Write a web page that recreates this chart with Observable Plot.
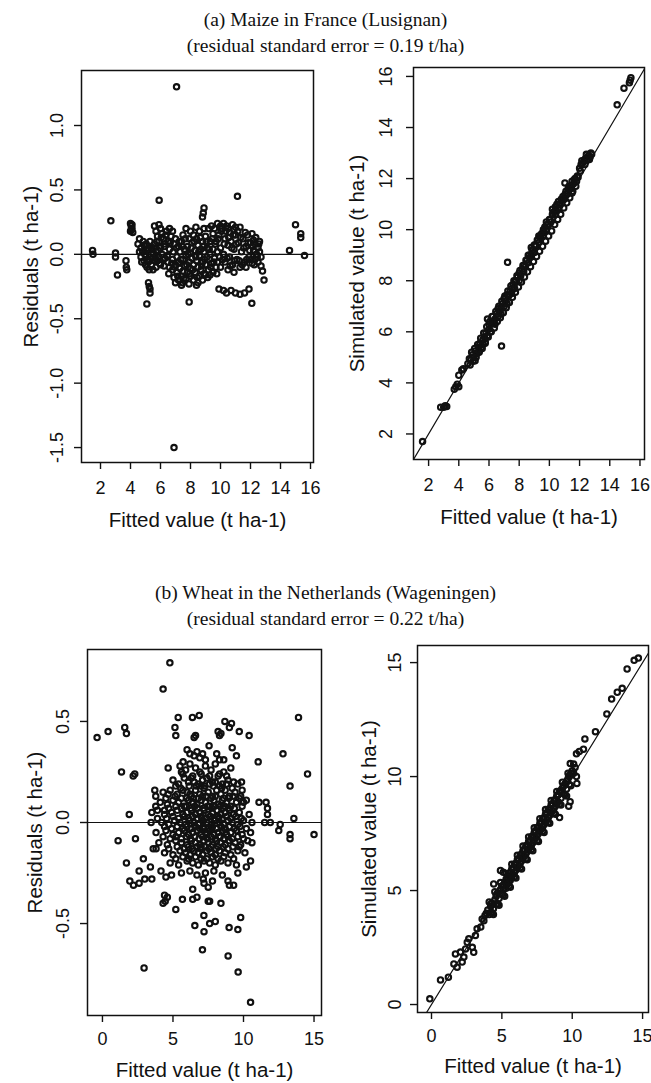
<!DOCTYPE html>
<html><head><meta charset="utf-8">
<script src="https://cdn.jsdelivr.net/npm/d3@7"></script>
<script src="https://cdn.jsdelivr.net/npm/@observablehq/plot@0.6"></script>
<style>
body{margin:0;background:#fff;}
#page{position:relative;width:651px;height:1083px;overflow:hidden;background:#fff;}
#page svg{position:absolute;left:0;top:0;}
.title{position:absolute;left:0;width:651px;text-align:center;font-family:"Liberation Serif","Times New Roman",serif;font-size:19.5px;line-height:1;color:#111;white-space:nowrap;}
</style></head><body><div id="page"></div>
<script>
// ---------- titles ----------
const titleA = "(a) Maize in France (Lusignan)";
const subtitleA = "(residual standard error = 0.19 t/ha)";
const titleB = "(b) Wheat in the Netherlands (Wageningen)";
const subtitleB = "(residual standard error = 0.22 t/ha)";
const xTitle = "Fitted value (t ha-1)";
const residTitle = "Residuals (t ha-1)";
const simTitle = "Simulated value (t ha-1)";

// ---------- ticks ----------
const maizeXTicks = [2, 4, 6, 8, 10, 12, 14, 16];
const maizeXLabels = ["2", "4", "6", "8", "10", "12", "14", "16"];
const maizeResidYTicks = [-1.5, -1, -0.5, 0, 0.5, 1];
const maizeResidYLabels = ["-1.5", "-1.0", "-0.5", "0.0", "0.5", "1.0"];
const maizeSimYTicks = [2, 4, 6, 8, 10, 12, 14, 16];
const maizeSimYLabels = ["2", "4", "6", "8", "10", "12", "14", "16"];
const wheatXTicks = [0, 5, 10, 15];
const wheatXLabels = ["0", "5", "10", "15"];
const wheatResidYTicks = [-0.5, 0, 0.5];
const wheatResidYLabels = ["-0.5", "0.0", "0.5"];
const wheatSimYTicks = [0, 5, 10, 15];
const wheatSimYLabels = ["0", "5", "10", "15"];

// reference lines
const zeroLine = [0];
const maizeOneToOne = [0, 17];
const wheatOneToOne = [-1, 16];

// ---------- maize: [fitted, residual] ----------
const maizeResiduals = [
[7.07,1.30],[6.9,-1.5],
[1.47,0.03],[1.5,0.0],[2.69,0.26],[3.0,0.01],[3.0,-0.02],[3.13,-0.16],[3.7,-0.05],[3.72,-0.1],[3.75,-0.12],
[4.0,0.24],[4.05,0.22],[4.1,0.2],[4.0,0.18],[4.15,0.17],[4.1,0.23],[4.05,0.19],
[5.91,0.42],[11.13,0.45],[8.9,0.36],[8.8,0.29],[8.85,0.32],
[15.0,0.23],[15.35,0.16],[15.35,0.13],[14.6,0.03],[15.6,-0.01],
[5.2,-0.22],[5.25,-0.25],[5.3,-0.27],[5.3,-0.3],[5.09,-0.385],[7.91,-0.37],
[9.9,-0.27],[10.2,-0.28],[10.4,-0.3],[10.7,-0.28],[11.0,-0.3],[11.3,-0.31],[11.6,-0.3],[11.9,-0.27],[12.09,-0.38],
[12.9,-0.2],[12.8,-0.13],[12.7,-0.09],
[4.5,0.08],[4.6,0.12],[4.7,0.05],[4.7,-0.02],[4.8,0.02],[4.9,-0.05],[4.9,0.07],[5.0,0.0],[5.0,-0.08],[5.1,0.03],[5.1,-0.1],[5.2,-0.06],[5.2,0.05],[5.3,-0.02],[5.3,0.1],[5.4,-0.08],[5.4,0.04],[5.5,-0.12],[5.5,0.0],[5.6,-0.05],[5.6,0.08],[5.7,-0.1],[5.7,0.02],
[5.6,0.22],[5.7,0.18],[5.8,0.14],[5.9,0.23],[5.9,0.1],[6.0,0.2],[6.0,0.05],[6.1,0.16],[6.2,0.12],[6.3,0.08],[6.4,0.18],[6.5,0.1],[6.6,0.2],[6.6,0.04],[6.7,0.14],[6.8,0.18],[6.9,0.08],[7.0,0.12],[7.2,0.06],[7.4,0.1],[7.7,0.2],[7.5,0.15],
[5.8,-0.05],[5.9,-0.02],[6.0,-0.08],[6.1,0.0],[6.24,-0.09],[6.3,-0.03],[6.5,-0.06],[6.6,-0.1],[6.8,-0.04],
[6.8,-0.12],[6.9,-0.18],[7.0,-0.08],[7.0,-0.22],[7.1,-0.02],[7.1,-0.14],[7.2,-0.2],[7.2,-0.06],[7.3,0.02],[7.3,-0.11],[7.4,-0.17],[7.4,-0.24],[7.47,-0.22],[7.5,-0.04],[7.5,-0.13],[7.6,0.04],[7.6,-0.09],[7.7,-0.19],[7.7,-0.01],[7.8,-0.14],[7.8,0.06],[7.9,-0.06],[7.9,-0.23],[8.0,0.01],[8.0,-0.11],[8.0,-0.17],[8.1,-0.03],[8.1,0.09],[8.2,-0.2],[8.2,-0.08],[8.3,0.03],[8.3,-0.14],[8.4,-0.05],[8.4,-0.24],[8.5,-0.22],[8.5,0.07],[8.5,-0.1],[8.6,-0.01],[8.6,-0.17],[8.7,0.04],[8.7,-0.12],[8.8,-0.06],[8.8,-0.2],[8.9,0.02],[8.9,-0.15],[9.0,-0.16],[9.0,-0.08],[9.1,0.05],[9.1,-0.02],[9.2,-0.12],[9.3,-0.16],[9.3,0.0],[9.4,-0.07],[9.5,0.04],[9.5,-0.14],[9.6,-0.03],[9.7,-0.1],[9.8,0.02],
[7.9,0.12],[8.0,0.18],[8.2,0.15],[8.36,0.21],[8.4,0.12],[8.6,0.18],[8.8,0.1],[9.0,0.14],[9.2,0.2],[9.3,0.1],[9.5,0.16],
[9.6,0.2],[9.7,0.1],[9.8,0.24],[9.8,-0.06],[9.9,0.15],[10.0,0.05],[10.0,-0.1],[10.1,0.2],[10.2,0.24],[10.2,0.0],[10.3,0.12],[10.3,-0.06],[10.4,0.22],[10.5,0.07],[10.5,-0.12],[10.6,0.17],[10.6,-0.02],[10.7,0.1],[10.8,0.23],[10.8,-0.08],[10.9,0.04],[10.9,-0.14],[11.0,0.15],[11.0,0.21],[11.1,-0.04],[11.2,0.09],[11.3,0.21],[11.3,-0.1],[11.4,0.02],[11.5,0.12],[11.6,-0.06],[11.7,-0.1],[11.7,0.06],[11.8,0.15],[11.9,-0.02],[12.0,0.09],[12.1,0.16],[12.1,-0.07],[12.2,0.11],[12.2,0.03],[12.3,0.08],[12.3,-0.04],[12.4,0.0],[12.5,0.05],[12.5,-0.06],[12.6,0.02],[12.6,0.1],[12.7,-0.02],
[6.55,-0.15],[6.65,0.09],[6.75,-0.07],[6.85,0.02],[6.95,-0.1],[7.05,0.05],[7.15,-0.17],[7.25,0.1],[7.35,-0.04],[7.45,0.06],[7.55,-0.19],[7.65,0.12],[7.75,-0.08],[7.85,0.0],[7.95,-0.15],[8.05,0.05],[8.15,-0.12],[8.25,0.1],[8.35,-0.02],[8.45,-0.18],[8.55,0.02],[8.65,0.13],[8.75,-0.09],[8.85,0.06],[8.95,-0.04],[9.05,0.1],[9.15,-0.18],[9.25,0.04],[9.35,-0.1],[9.45,0.12],[9.55,-0.06],[9.65,0.08],[9.75,-0.15],[9.85,0.12],[9.95,-0.02],[10.05,0.18],[10.15,-0.04],[10.25,0.08],[10.35,0.18],[10.45,-0.03],[10.55,0.13],[10.65,-0.09],[10.75,0.05],[10.85,0.15],[10.95,-0.05],[11.05,0.08],[11.15,0.18],[11.25,-0.05],[11.35,0.13],[11.45,-0.08],[11.55,0.05],[11.65,0.17],[11.75,-0.04],[11.85,0.09],[11.95,0.03],[12.05,-0.04],[12.15,0.06],[12.25,-0.08],[12.35,0.13],[12.45,-0.02],[12.55,0.08],
[10.0,0.22],[10.5,0.2],[10.9,0.19],[9.4,0.22],[8.9,0.2],
[5.55,0.05],[5.65,-0.02],[5.75,0.1],[5.85,0.03],[5.95,-0.07],[6.05,0.13],[6.15,-0.04],[6.25,0.06],[6.35,0.15],[6.45,-0.01],[4.6,0.02],[4.75,-0.06],[4.85,0.1],[4.95,0.0],[5.05,0.08],[5.15,-0.04],[5.25,-0.12],[5.35,0.06],[5.45,-0.03]
];

// ---------- maize: [fitted, simulated] ----------
const maizeSimulated = [
[1.6,1.7],[2.8,3.05],[3.0,3.05],[3.1,3.1],[3.2,3.08],[3.7,3.75],[3.8,3.85],[3.9,3.95],[4.0,3.85],[4.0,4.3],[4.2,4.5],[4.3,4.55],[4.6,4.75],[4.8,4.9],[5.08,4.87],
[4.7,4.95],[4.9,5.1],[5.0,5.0],[5.1,5.25],[5.2,5.15],[5.3,5.4],[5.35,5.2],[5.4,5.55],[5.5,5.4],[5.6,5.7],[5.6,5.5],[5.7,5.8],[5.75,5.6],[5.8,5.95],[5.9,6.5],[5.9,5.85],[6.0,6.1],[6.0,6.3],[6.1,6.0],[6.2,6.35],[6.2,6.6],[6.3,6.4],[6.4,6.5],[6.4,6.3],[6.5,6.7],[6.6,6.6],[6.6,6.9],[6.7,6.8],[6.8,6.95],[6.8,6.7],[6.83,5.44],[6.9,7.1],[7.0,7.0],[7.0,7.3],[7.1,7.2],[7.2,7.45],[7.2,7.1],[7.23,8.72],[7.3,7.4],[7.4,7.6],[7.5,7.5],[7.5,7.7],[7.6,7.85],[7.7,7.7],[7.7,7.95],[7.8,8.0],[7.9,8.15],[8.0,8.0],[8.0,8.3],[8.1,8.2],[8.2,8.45],[8.3,8.35],[8.3,8.6],[8.4,8.55],[8.5,8.8],[8.6,8.7],[8.6,9.0],[8.7,8.9],[8.8,9.3],[8.8,9.0],[8.9,9.2],[9.0,9.1],[9.0,9.4],[9.1,9.35],[9.2,9.6],[9.3,9.5],[9.3,9.75],[9.4,9.7],[9.5,9.85],[9.6,9.75],[9.6,10.0],[9.7,10.1],[9.8,10.0],[9.8,10.3],[9.9,10.2],[10.0,10.4],[10.1,10.3],[10.2,10.6],[10.2,10.8],[10.3,10.7],[10.4,10.9],[10.4,10.6],[10.5,11.0],[10.6,10.85],[10.6,11.1],[10.7,11.0],[10.8,11.2],[10.9,11.3],[11.0,11.2],[11.03,11.83],[11.1,11.5],[11.2,11.4],[11.3,11.7],[11.4,11.6],[11.5,11.44],[11.5,11.9],[11.6,11.8],[11.7,12.0],[11.8,11.9],[11.9,12.05],
[12.0,12.4],[12.1,12.55],[12.2,12.6],[12.3,12.7],[12.4,12.8],[12.5,12.75],[12.6,12.9],[12.7,12.85],[12.8,12.95],
[14.49,14.89],[14.94,15.54],[15.3,15.75],[15.4,15.95],[15.35,15.85],
[4.75,4.7],[4.85,5.2],[4.95,4.85],[5.05,5.35],[5.15,5.0],[5.25,5.5],[5.35,5.25],[5.45,5.75],[5.55,5.35],[5.65,5.95],[5.75,5.55],[5.85,6.2],[5.95,5.8],[6.05,6.4],[6.15,6.0],[6.25,6.6],[6.35,6.15],[6.45,6.8],[6.55,6.4],[6.65,7.0],[6.75,6.55],[6.85,7.2],[6.95,6.75],[7.05,7.4],[7.15,6.95],[7.25,7.6],[7.35,7.15],[7.45,7.8],[7.55,7.35],[7.65,8.0],[7.75,7.55],[7.85,8.2],[7.95,7.75],[8.05,8.4],[8.15,7.95],[8.25,8.6],[8.35,8.15],[8.45,8.8],[8.55,8.35],[8.65,9.0],[8.75,8.55],[8.85,9.2],[8.95,8.75],[9.05,9.4],[9.15,8.95],[9.25,9.6],[9.35,9.15],[9.45,9.8],[9.55,9.35],[9.65,10.0],[9.75,9.55],[9.85,10.2],[9.95,9.75],[10.05,10.4],[10.15,9.95],[10.25,10.6],[10.35,10.2],[10.45,10.8],[10.55,10.4],[10.65,11.0],[10.75,10.6],[10.85,11.2],[10.95,10.85],[11.05,11.4],[11.15,11.05],[11.25,11.6],[11.35,11.25],[11.45,11.7],[11.55,11.5],[11.65,11.95],[11.75,11.7],[11.85,12.1],[12.05,12.3],[12.15,12.7],[12.35,12.55],[12.45,12.95],[12.65,12.75],[12.75,13.0]
];

// ---------- wheat: [fitted, residual] ----------
const wheatResiduals = [
[4.78,0.79],[4.3,0.66],[-0.38,0.42],[0.4,0.45],[1.58,0.47],[1.7,0.44],[5.37,0.52],[5.14,0.47],[5.2,0.43],[6.38,0.52],[6.86,0.53],[6.5,0.42],[6.6,0.43],[8.68,0.5],[9.0,0.47],[9.15,0.49],[8.2,0.45],[8.3,0.43],[8.4,0.44],[9.7,0.45],[10.4,0.43],[13.9,0.52],[12.8,0.34],[11.04,0.3],[14.54,0.24],[13.3,0.18],[1.35,0.25],[2.18,0.23],[2.29,0.24],[4.66,0.27],[5.72,0.3],[5.6,0.25],
[6.0,0.36],[6.2,0.34],[6.5,0.33],[6.7,0.35],[6.9,0.32],[7.1,0.34],[7.3,0.31],[7.56,0.38],[8.1,0.34],[8.3,0.31],[8.6,0.31],[9.2,0.37],[9.5,0.33],
[3.71,0.16],[3.78,0.13],[4.66,0.14],[3.78,0.08],[3.9,0.06],[1.9,0.04],[3.5,0.05],[3.45,0.0],[3.9,0.02],[4.4,0.06],[9.86,0.2],[9.8,0.13],[10.0,0.1],[11.1,0.1],[11.6,0.1],[11.7,0.07],[11.7,0.04],[13.57,0.02],[12.6,-0.01],[11.9,0.0],[11.5,0.0],
[1.11,-0.09],[2.34,-0.08],[15.0,-0.06],[12.5,-0.04],[13.3,-0.06],[13.3,-0.08],[3.6,-0.13],[3.8,-0.13],[2.9,-0.18],[1.7,-0.2],[2.6,-0.24],[3.4,-0.22],[3.0,-0.28],[3.5,-0.28],[1.94,-0.29],[2.2,-0.31],[2.6,-0.3],[4.15,-0.24],[4.5,-0.27],[4.9,-0.26],[4.4,-0.36],[4.6,-0.37],[4.3,-0.4],[4.45,-0.39],[5.2,-0.43],[5.67,-0.38],[6.4,-0.33],[6.4,-0.38],[6.7,-0.37],[7.5,-0.39],[7.6,-0.39],[8.4,-0.4],[7.5,-0.32],[7.2,-0.3],[7.15,-0.28],[7.8,-0.29],[8.9,-0.29],[9.3,-0.31],[9.0,-0.31],[9.6,-0.25],[10.2,-0.22],[10.5,-0.19],[10.6,-0.1],[7.19,-0.46],[9.8,-0.47],[6.55,-0.51],[7.2,-0.54],[7.6,-0.5],[8.0,-0.49],[8.98,-0.52],[9.6,-0.53],[7.09,-0.63],[8.91,-0.66],[9.62,-0.74],[2.95,-0.72],[10.5,-0.89],
[5.5,0.28],[5.9,0.26],[6.2,0.29],[6.6,0.27],[6.9,0.25],[7.3,0.28],[7.7,0.26],[8.0,0.29],[8.6,0.25],[9.1,0.27],
[5.0,0.21],[5.4,0.19],[5.8,0.22],[6.1,0.2],[6.4,0.23],[6.8,0.19],[7.1,0.21],[7.4,0.22],[7.8,0.2],[8.2,0.23],[8.5,0.19],[8.9,0.21],[9.3,0.2],
[4.3,0.15],[4.8,0.16],[5.3,0.14],[5.7,0.16],[6.0,0.15],[6.3,0.13],[6.6,0.16],[6.9,0.14],[7.2,0.17],[7.5,0.15],[7.8,0.13],[8.1,0.16],[8.4,0.14],[8.7,0.16],[9.0,0.13],[9.4,0.15],[9.9,0.16],
[4.1,0.1],[4.6,0.09],[5.0,0.11],[5.4,0.1],[5.8,0.08],[6.1,0.11],[6.4,0.1],[6.7,0.09],[7.0,0.11],[7.3,0.1],[7.6,0.08],[7.9,0.11],[8.2,0.09],[8.5,0.11],[8.8,0.1],[9.1,0.08],[9.5,0.1],[10.2,0.11],
[4.4,0.04],[4.9,0.05],[5.3,0.06],[5.7,0.04],[6.0,0.05],[6.3,0.06],[6.6,0.04],[6.9,0.05],[7.2,0.06],[7.5,0.04],[7.8,0.05],[8.1,0.06],[8.4,0.04],[8.7,0.05],[9.0,0.06],[9.3,0.04],[9.7,0.05],[10.4,0.04],
[4.2,0.0],[4.7,-0.01],[5.1,0.01],[5.5,0.0],[5.9,-0.01],[6.2,0.01],[6.5,0.0],[6.8,-0.01],[7.1,0.01],[7.4,0.0],[7.7,-0.01],[8.0,0.01],[8.3,0.0],[8.6,-0.01],[8.9,0.01],[9.2,0.0],[9.6,-0.01],[10.0,0.01],[10.6,0.0],
[3.8,-0.05],[4.5,-0.04],[5.0,-0.06],[5.4,-0.05],[5.8,-0.04],[6.1,-0.06],[6.4,-0.05],[6.7,-0.04],[7.0,-0.06],[7.3,-0.05],[7.6,-0.04],[7.9,-0.06],[8.2,-0.05],[8.5,-0.04],[8.8,-0.06],[9.1,-0.05],[9.5,-0.04],[9.9,-0.06],[10.5,-0.05],
[4.0,-0.1],[4.6,-0.11],[5.2,-0.09],[5.6,-0.1],[6.0,-0.11],[6.3,-0.09],[6.6,-0.1],[6.9,-0.11],[7.2,-0.09],[7.5,-0.1],[7.8,-0.11],[8.1,-0.09],[8.4,-0.1],[8.7,-0.11],[9.0,-0.09],[9.4,-0.1],[9.8,-0.11],[10.3,-0.09],
[4.4,-0.15],[5.0,-0.16],[5.5,-0.14],[5.9,-0.15],[6.2,-0.16],[6.5,-0.14],[6.8,-0.15],[7.1,-0.16],[7.4,-0.14],[7.7,-0.15],[8.0,-0.16],[8.3,-0.14],[8.7,-0.15],[9.1,-0.16],[9.6,-0.14],[10.1,-0.15],
[4.8,-0.2],[5.4,-0.21],[6.0,-0.19],[6.4,-0.2],[6.8,-0.21],[7.2,-0.19],[7.6,-0.2],[8.0,-0.21],[8.4,-0.19],[8.9,-0.2],[9.5,-0.21],
[5.6,-0.25],[6.2,-0.24],[6.7,-0.26],[7.3,-0.25],[7.9,-0.24],[8.5,-0.26],
[6.45,0.12],[6.75,0.07],[7.05,0.02],[7.35,0.13],[7.65,0.03],[7.95,0.08],[8.25,0.02],[8.55,0.07],[6.55,-0.02],[6.85,-0.08],[7.15,-0.03],[7.45,-0.08],[7.75,-0.03],[8.05,-0.13],[8.35,-0.07],[8.65,-0.03],[6.35,-0.13],[6.95,-0.13],[7.55,-0.13],[7.25,0.18],[7.85,0.18],[6.65,0.18],[8.45,0.17],
[5.7,0.24],[6.3,0.22],[7.0,0.24],[7.6,0.23],[8.3,0.24],[8.8,0.23],
[5.2,0.18],[5.55,0.17],[6.15,0.18],[6.5,0.2],[7.0,0.18],[7.6,0.19],[8.0,0.2],[8.3,0.18],[8.8,0.19],[9.2,0.17],[9.6,0.19],
[4.5,0.12],[5.15,0.13],[5.6,0.12],[5.95,0.12],[6.2,0.14],[6.8,0.12],[7.1,0.13],[7.7,0.12],[8.0,0.13],[8.6,0.12],[8.95,0.12],[9.25,0.13],[9.7,0.12],
[4.7,0.07],[5.2,0.08],[5.6,0.07],[5.95,0.08],[6.25,0.07],[6.55,0.08],[7.15,0.07],[7.45,0.08],[7.75,0.07],[8.35,0.08],[8.65,0.08],[8.95,0.07],[9.35,0.07],[9.9,0.08],
[4.55,0.02],[5.0,0.03],[5.4,0.02],[5.8,0.03],[6.1,0.02],[6.4,0.03],[6.7,0.02],[7.0,0.03],[7.3,0.02],[7.6,0.03],[7.9,0.02],[8.2,0.03],[8.5,0.02],[8.8,0.03],[9.1,0.02],[9.45,0.03],[9.85,0.02],
[4.4,-0.02],[4.9,-0.03],[5.3,-0.02],[5.7,-0.03],[6.0,-0.02],[6.3,-0.03],[6.6,-0.02],[6.9,-0.03],[7.2,-0.02],[7.5,-0.03],[7.8,-0.02],[8.1,-0.03],[8.4,-0.02],[8.7,-0.03],[9.0,-0.02],[9.35,-0.03],[9.75,-0.02],[10.2,-0.03],
[4.3,-0.07],[4.8,-0.08],[5.2,-0.07],[5.6,-0.08],[5.95,-0.07],[6.25,-0.08],[6.55,-0.07],[7.1,-0.07],[7.4,-0.06],[7.7,-0.07],[8.0,-0.08],[8.3,-0.07],[8.6,-0.08],[8.9,-0.07],[9.2,-0.08],[9.6,-0.07],[10.0,-0.08],
[4.7,-0.13],[5.3,-0.12],[5.8,-0.13],[6.1,-0.12],[6.7,-0.12],[7.0,-0.12],[7.3,-0.12],[7.7,-0.12],[8.2,-0.12],[8.55,-0.12],[8.9,-0.13],[9.25,-0.12],[9.7,-0.12],
[5.2,-0.18],[5.7,-0.17],[6.1,-0.18],[6.6,-0.17],[7.0,-0.18],[7.4,-0.18],[7.8,-0.17],[8.2,-0.18],[8.6,-0.17],[9.3,-0.18]
];

// ---------- wheat: [fitted, simulated] ----------
const wheatSimulated = [
[-0.12,0.25],[0.64,1.08],[1.2,1.2],[1.59,1.78],[1.82,1.64],[2.18,1.86],[2.3,2.08],[1.7,2.22],[2.06,2.3],[2.42,2.44],[2.54,2.73],[2.9,2.51],[3.0,2.29],[2.65,2.88],[3.12,3.03],[3.24,3.32],[3.5,3.4],[3.6,3.75],[3.72,3.68],[3.9,4.0],[3.8,3.9],
[4.0,4.15],[4.1,3.95],[4.2,4.3],[4.25,4.05],[4.3,4.45],[4.4,4.2],[4.42,5.29],[4.5,4.6],[4.6,4.4],[4.6,4.75],[4.7,4.9],[4.8,4.65],[4.9,5.05],[4.9,5.88],[5.0,4.85],[5.0,5.2],[5.1,5.8],[5.1,5.05],[5.2,5.35],[5.3,5.1],[5.3,5.5],[5.4,5.3],[5.5,5.65],[5.5,5.35],[5.6,5.8],[5.6,5.45],[5.7,5.95],[5.7,5.6],[5.8,6.0],[5.8,5.7],[5.9,6.15],[5.9,5.8],[6.0,6.2],[6.0,5.9],[6.1,6.35],[6.1,6.0],[6.2,6.4],[6.2,6.1],[6.3,6.55],[6.3,6.2],[6.4,6.6],[6.4,6.3],[6.5,6.75],[6.5,6.4],[6.6,6.8],[6.6,6.5],[6.7,6.95],[6.7,6.6],[6.8,7.0],[6.8,6.7],[6.9,7.15],[6.9,6.8],[7.0,7.2],[7.0,6.9],[7.1,7.35],[7.1,7.0],[7.2,7.4],[7.2,7.1],[7.3,7.55],[7.3,7.2],[7.4,7.6],[7.4,7.3],[7.5,7.75],[7.5,7.4],[7.6,7.8],[7.6,7.5],[7.7,7.95],[7.7,7.6],[7.8,8.0],[7.8,7.7],[7.9,8.15],[7.9,7.8],[8.0,8.2],[8.0,7.9],[8.1,8.35],[8.1,8.0],[8.2,8.4],[8.2,8.1],[8.3,8.55],[8.3,8.2],[8.4,8.6],[8.4,8.3],[8.5,8.75],[8.5,8.4],[8.6,8.8],[8.6,8.5],[8.7,8.95],[8.7,8.6],[8.8,9.0],[8.8,8.7],[8.9,9.15],[8.9,8.8],[9.0,9.2],[9.0,8.9],[9.1,8.2],[9.1,9.35],[9.2,9.4],[9.2,9.05],[9.3,9.5],[9.4,9.6],[9.4,9.25],[9.5,9.7],[9.6,9.8],[9.6,9.45],[9.7,9.9],[9.85,8.9],[9.75,8.7],[9.8,10.05],[9.8,9.65],[9.9,10.15],[9.86,10.57],[10.0,10.25],[10.1,10.15],[10.2,10.4],[10.33,9.7],[10.3,11.0],[10.5,11.1],[10.8,11.2],[10.9,11.65],[11.65,11.97],[12.46,12.75],[12.8,13.4],[13.2,13.7],[13.55,13.87],[13.9,14.72],[14.4,15.1],[14.7,15.2],
[4.1,4.5],[4.3,4.0],[4.5,4.95],[4.7,4.4],[4.9,5.35],[5.1,4.8],[5.3,5.75],[5.5,5.2],[5.7,6.15],[5.9,5.6],[6.1,6.55],[6.3,6.0],[6.5,6.95],[6.7,6.4],[6.9,7.35],[7.1,6.8],[7.3,7.75],[7.5,7.2],[7.7,8.15],[7.9,7.6],[8.1,8.55],[8.3,8.0],[8.5,8.95],[8.7,8.4],[8.9,9.35],[9.1,8.8],[9.3,9.75],[9.5,9.2],[9.7,10.15],[9.9,9.6],[10.1,10.55],[10.3,10.0],
[4.2,4.4],[4.4,3.95],[4.6,4.8],[4.8,4.35],[5.0,5.2],[5.2,4.75],[5.4,5.6],[5.6,5.15],[5.8,6.0],[6.0,5.55],[6.2,6.4],[6.4,5.95],[6.6,6.8],[6.8,6.35],[7.0,7.2],[7.2,6.75],[7.4,7.6],[7.6,7.15],[7.8,8.0],[8.0,7.55],[8.2,8.4],[8.4,7.95],[8.6,8.8],[8.8,8.35],[9.0,9.2],[9.2,8.75],[9.4,9.6],[9.6,9.15],[9.8,10.0]
];

// ---------- layout ----------
const W = 651, H = 1083;
const SANS = "'Liberation Sans', Arial, Helvetica, sans-serif";
const INK = "#111";

function panel(o) {
  const marks = [
    Plot.frame({stroke: INK, strokeWidth: 1.5}),
    Plot.axisX({ticks: o.xTicks, tickSize: 7, tickPadding: o.xPad, fontSize: 18, stroke: INK, strokeWidth: 1.4,
      tickFormat: d => o.xLabels[o.xTicks.indexOf(d)], label: null}),
    Plot.axisY({ticks: o.yTicks, tickSize: 7, stroke: INK, strokeWidth: 1.4, tickFormat: () => "", label: null}),
    Plot.text(o.yTicks, {y: d => d, text: d => o.yLabels[o.yTicks.indexOf(d)], frameAnchor: "left", dx: o.yLabelDx,
      rotate: -90, textAnchor: "middle", lineAnchor: "middle", fontSize: 18, fill: INK}),
    Plot.text([o.xTitle], {frameAnchor: "bottom", dy: o.xTitleDy, lineAnchor: "middle", fontSize: 20.5, fill: INK}),
    Plot.text([o.yTitle], {frameAnchor: "left", dx: o.yTitleDx, rotate: -90, textAnchor: "middle", lineAnchor: "middle", fontSize: 20.5, fill: INK}),
  ];
  if (o.zero) marks.push(Plot.ruleY(o.zero, {stroke: INK, strokeWidth: 1.2}));
  if (o.diag) marks.push(Plot.line(o.diag, {x: d => d, y: d => d, stroke: INK, strokeWidth: 1.2, clip: true}));
  marks.push(Plot.dot(o.data, {x: d => d[0], y: d => d[1], r: 2.7, stroke: INK, strokeWidth: 2.1, fill: "none"}));
  return Plot.plot({
    width: W, height: H,
    marginLeft: o.frame[0], marginRight: W - o.frame[1], marginTop: o.frame[2], marginBottom: H - o.frame[3],
    x: {domain: o.xDomain}, y: {domain: o.yDomain},
    style: {background: "transparent", overflow: "visible", fontFamily: SANS, color: INK},
    marks
  });
}

const page = document.getElementById("page");
page.appendChild(panel({
  data: maizeResiduals, frame: [81, 313, 70, 462], xDomain: [0.733, 16.2], yDomain: [-1.616, 1.427],
  xTicks: maizeXTicks, xLabels: maizeXLabels, yTicks: maizeResidYTicks, yLabels: maizeResidYLabels,
  xPad: 12, yLabelDx: -24, xTitle, yTitle: residTitle, xTitleDy: 58, yTitleDx: -50, zero: zeroLine
}));
page.appendChild(panel({
  data: maizeSimulated, frame: [413, 644, 67, 459], xDomain: [1.0, 16.3], yDomain: [1.0, 16.35],
  xTicks: maizeXTicks, xLabels: maizeXLabels, yTicks: maizeSimYTicks, yLabels: maizeSimYLabels,
  xPad: 12, yLabelDx: -27, xTitle, yTitle: simTitle, xTitleDy: 58, yTitleDx: -56, diag: maizeOneToOne
}));
page.appendChild(panel({
  data: wheatResiduals, frame: [87, 321, 649, 1015], xDomain: [-1.06, 15.53], yDomain: [-0.955, 0.856],
  xTicks: wheatXTicks, xLabels: wheatXLabels, yTicks: wheatResidYTicks, yLabels: wheatResidYLabels,
  xPad: 10, yLabelDx: -24, xTitle, yTitle: residTitle, xTitleDy: 55, yTitleDx: -52, zero: zeroLine
}));
page.appendChild(panel({
  data: wheatSimulated, frame: [417, 648, 645, 1012], xDomain: [-0.995, 15.42], yDomain: [-0.35, 15.75],
  xTicks: wheatXTicks, xLabels: wheatXLabels, yTicks: wheatSimYTicks, yLabels: wheatSimYLabels,
  xPad: 10, yLabelDx: -22, xTitle, yTitle: simTitle, xTitleDy: 54, yTitleDx: -48, diag: wheatOneToOne
}));

function addTitle(text, baseline) {
  const d = document.createElement("div");
  d.className = "title";
  d.textContent = text;
  d.style.top = (baseline - 16.3) + "px";
  page.appendChild(d);
}
addTitle(titleA, 26);
addTitle(subtitleA, 52);
addTitle(titleB, 599);
addTitle(subtitleB, 625);
</script>
</body></html>
